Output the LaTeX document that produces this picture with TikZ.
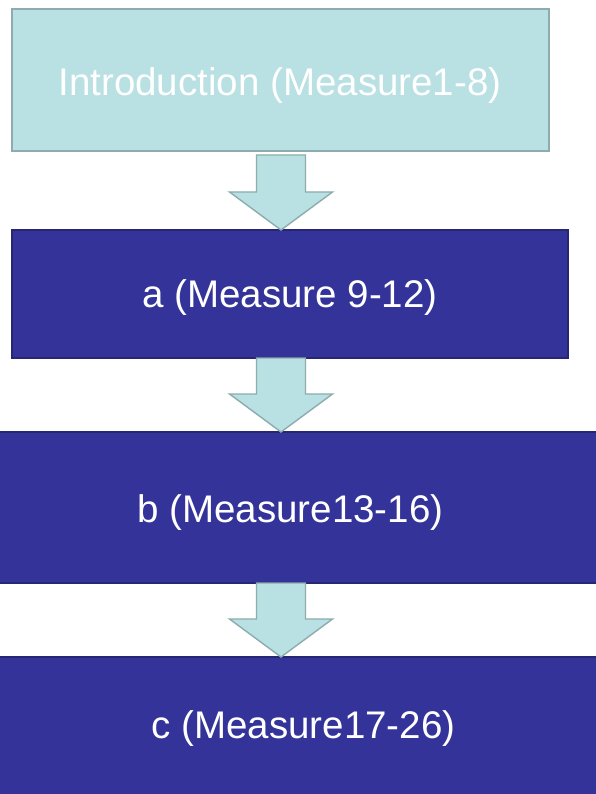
\documentclass[tikz,border=0pt]{standalone}
\usepackage{fontspec}
\setmainfont{Liberation Sans}
\usetikzlibrary{calc}
\definecolor{introfill}{RGB}{185,224,226}
\definecolor{introline}{RGB}{140,172,174}
\definecolor{darkblue}{RGB}{51,51,153}
\definecolor{darkline}{RGB}{38,38,115}
\tikzset{
  introbox/.style={draw=introline, fill=introfill, line width=1.6pt, inner sep=0pt, outer sep=0pt},
  bluebox/.style={draw=darkline, fill=darkblue, line width=1.6pt, inner sep=0pt, outer sep=0pt},
  lbl/.style={text=white, font=\fontsize{38.5}{46}\selectfont, anchor=base, inner sep=0pt},
  blockarr/.style={draw=introline, fill=introfill, line width=1.4pt, line join=miter}
}
\newcommand{\blockarrow}[3]{%
  \draw[blockarr] ($(#1.south -| ax)+(-24.5,#3)$) -- ($(#1.south -| ax)+(24.5,#3)$)
    -- ($(#2.north -| ax)+(24.5,-38)$) -- ($(#2.north -| ax)+(51.5,-38)$)
    -- (#2.north -| ax) -- ($(#2.north -| ax)+(-51.5,-38)$)
    -- ($(#2.north -| ax)+(-24.5,-38)$) -- cycle;}
\begin{document}
\begin{tikzpicture}[x=1pt, y=-1pt]
  \useasboundingbox[fill=white] (0,0) rectangle (596,794);
  \coordinate (ax) at (281,0);
  \node[introbox, minimum width=537pt, minimum height=142pt] (intro) at (280.5,80) {};
  \node[bluebox, minimum width=556pt, minimum height=128pt] (a) at (290,294) {};
  \node[bluebox, minimum width=604pt, minimum height=151pt] (b) at (298,507.5) {};
  \node[bluebox, minimum width=604pt, minimum height=145pt] (c) at (298,729.5) {};
  \node[lbl] (tintro) at (280,96) {Introduction (Measure1-8)};
  \node[lbl] (ta) at (290,307) {a (Measure 9-12)};
  \node[lbl] (tb) at (290.5,522) {b (Measure13-16)};
  \node[lbl] (tc) at (303.5,738) {c (Measure17-26)};
  \blockarrow{intro}{a}{4}
  \blockarrow{a}{b}{0}
  \blockarrow{b}{c}{0}
\end{tikzpicture}
\end{document}
